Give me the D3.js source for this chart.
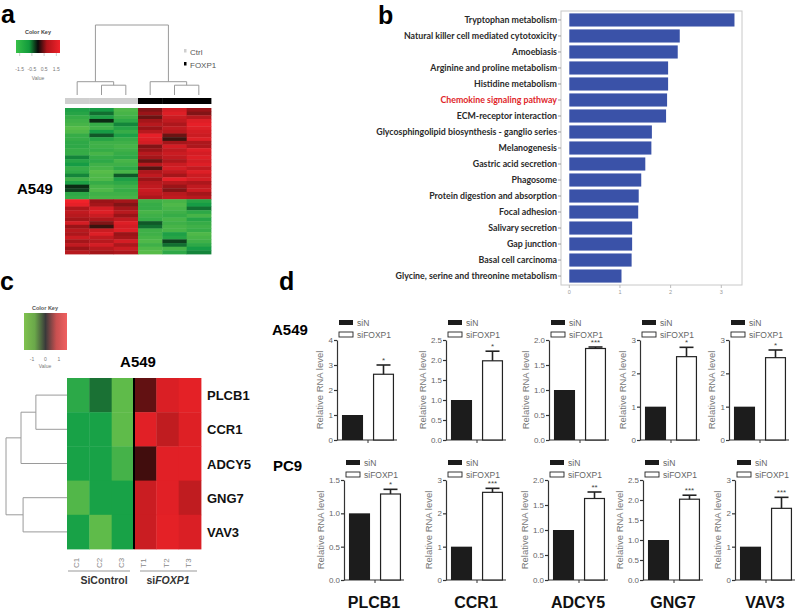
<!DOCTYPE html>
<html><head><meta charset="utf-8">
<script src="https://cdn.jsdelivr.net/npm/d3@7"></script>
<style>body{margin:0;background:#fff;} svg{display:block;font-family:"Liberation Sans",Arial,sans-serif;}</style>
</head><body><script>
// ================= DATA =================
// Panel a
const aColumns = ["Ctrl-1","Ctrl-2","Ctrl-3","FOXP1-1","FOXP1-2","FOXP1-3"];
const aGroups = ["Ctrl","Ctrl","Ctrl","FOXP1","FOXP1","FOXP1"];
const aMatrix = [
 [-0.7,-0.6,-1.3, 0.5,1.2,0.6],
 [-0.8,-0.4,-1.2, 0.6,1.3,0.5],
 [-1.0,-0.7,-1.1, 0.4,1.1,0.9],
 [-1.1,-0.1,-0.9, 0.7,1.0,1.3],
 [-1.2,-1.0,-0.5, 0.9,0.8,1.4],
 [-1.4,-1.1,-0.8, 0.6,1.0,1.3],
 [-1.3,-0.6,-1.0, 0.9,0.9,1.2],
 [-1.0,-0.3,-0.7, 1.4,0.4,1.1],
 [-1.0,-0.8,-1.0, 1.3,0.2,1.3],
 [-0.9,-1.1,-1.1, 1.2,0.7,0.8],
 [-0.9,-1.1,-1.2, 0.5,1.2,0.8],
 [-1.0,-1.0,-1.1, 0.6,1.0,1.3],
 [-1.0,-1.2,-1.0, 0.9,1.1,1.2],
 [-0.5,-1.0,-0.9, 0.7,1.0,1.3],
 [-0.8,-0.9,-1.2, 0.4,0.8,1.2],
 [-0.6,-1.1,-1.1, 0.9,1.1,1.3],
 [-1.0,-1.2,-0.9, 0.3,1.2,1.0],
 [-0.9,-1.4,-1.2, 0.8,1.0,1.3],
 [-0.5,-1.3,-0.3, 1.0,0.7,1.1],
 [-1.1,-1.3,-0.7, 0.6,1.4,1.2],
 [-0.7,-1.0,-0.9, 0.9,0.9,0.8],
 [-0.1,-1.2,-1.1, 1.0,0.6,1.0],
 [-0.2,-1.3,-1.0, 1.1,0.5,1.1],
 [-0.9,-1.1,-1.1, 1.0,0.9,0.7],
 [-1.0,-1.2,-1.2, 0.8,1.0,0.9],
 [ 1.5, 0.6, 0.7,-1.1,-1.2,-0.8],
 [ 1.4, 0.7, 0.5,-1.0,-1.3,-0.6],
 [ 0.8, 1.2, 0.7,-1.0,-1.2,-0.4],
 [ 1.0, 1.3, 0.9,-1.2,-1.1,-0.9],
 [ 0.9, 1.1, 0.6,-1.1,-1.0,-1.2],
 [ 0.7, 0.8, 1.0,-1.0,-1.2,-0.8],
 [ 1.2, 0.5, 1.3,-0.3,-1.1,-1.0],
 [ 0.6, 0.2, 1.2,-0.4,-1.2,-1.1],
 [ 0.9, 1.1, 1.3,-1.1,-1.2,-1.0],
 [ 0.8, 1.3, 0.6,-1.1,-0.7,-1.3],
 [ 1.1, 1.0, 0.7,-1.2,-0.8,-1.2],
 [ 0.7, 0.9, 1.2,-1.3,-0.2,-1.1],
 [ 1.0, 1.2, 0.8,-1.1,-0.4,-0.9],
 [ 0.6, 0.9, 1.1,-1.3,-1.2,-0.6],
 [ 0.9, 0.7, 0.8,-1.4,-0.9,-0.5]
];
const aKeyTicks = [-1.5,-0.5,0.5,1.5];
const aDendroMerges = [[1,2,0.14],[0,"m0",0.19],[4,5,0.14],[3,"m2",0.19],["m1","m3",1]];

// Panel b
const keggTerms = ["Tryptophan metabolism","Natural killer cell mediated cytotoxicity","Amoebiasis",
 "Arginine and proline metabolism","Histidine metabolism","Chemokine signaling pathway",
 "ECM-receptor interaction","Glycosphingolipid  biosynthesis - ganglio series","Melanogenesis",
 "Gastric acid secretion","Phagosome","Protein digestion and absorption","Focal adhesion",
 "Salivary secretion","Gap junction","Basal cell carcinoma","Glycine, serine and threonine metabolism"];
const keggValues = [3.26,2.18,2.14,1.95,1.95,1.93,1.91,1.63,1.62,1.50,1.42,1.37,1.36,1.24,1.24,1.23,1.03];
const keggTicks = [0,1,2,3];
const keggHighlight = "Chemokine signaling pathway";

// Panel c
const cGenes = ["PLCB1","CCR1","ADCY5","GNG7","VAV3"];
const cSamples = ["C1","C2","C3","T1","T2","T3"];
const cMatrix = [
 [-1.0,-0.55,-1.4, 0.3,1.2,1.35],
 [-0.85,-0.85,-1.4, 1.3,0.8,1.25],
 [-0.85,-0.85,-1.2, 0.12,1.3,1.3],
 [-1.3,-0.85,-0.85, 0.95,1.3,0.8],
 [-0.85,-1.4,-0.85, 0.95,1.35,1.2]
];
const cKeyTicks = [-1,0,1];
const cDendroMerges = [[0,1,0.51],["m0",2,0.754],[3,4,0.72],["m1","m2",1]];

// Panel d
const dGenes = ["PLCB1","CCR1","ADCY5","GNG7","VAV3"];
const dGroups = ["siN","siFOXP1"];
const a549Control = [1,1,1,1,1];
const a549FOXP1 = [2.63,1.98,1.83,2.5,2.47];
const a549Err = [0.37,0.24,0.03,0.28,0.23];
const a549Sig = ["*","*","***","*","*"];
const a549YMax = [4,2.5,2,3,3];
const a549YStep = [1,0.5,0.5,1,1];
const pc9Control = [1,1,1,1,1];
const pc9FOXP1 = [1.29,2.63,1.63,2.02,2.15];
const pc9Err = [0.07,0.12,0.13,0.1,0.33];
const pc9Sig = ["*","***","**","***","***"];
const pc9YMax = [1.5,3,2,2.5,3];
const pc9YStep = [0.5,1,0.5,0.5,1];

// ================= LAYOUT =================
const svg = d3.select("body").append("svg").attr("width",800).attr("height",613);

function panelLabel(t,x,y){ svg.append("text").attr("x",x).attr("y",y).attr("font-size",25).attr("font-weight","bold").text(t); }
panelLabel("a",1,23); panelLabel("b",378,24); panelLabel("c",0,290); panelLabel("d",279,290);

// Generic dendrogram
function drawDendro(g, leafPos, merges, hScale, orient){
  const nodes = {};
  leafPos.forEach((p,i)=>nodes[i]={p,h:0});
  merges.forEach(([a,b,h],k)=>{
    const A=nodes[a], B=nodes[b];
    nodes["m"+k]={p:(A.p+B.p)/2,h};
    const pts=[[A.p,A.h],[A.p,h],[B.p,h],[B.p,B.h]];
    const xy = pts.map(([p,hh])=> orient==="top"?[p,hScale(hh)]:[hScale(hh),p]);
    g.append("path").attr("d",d3.line()(xy)).attr("fill","none").attr("stroke","#9a9a9a").attr("stroke-width",1);
  });
}

// ---------- Panel a ----------
(function(){
  const g = svg.append("g");
  const x = d3.scaleBand().domain(d3.range(aColumns.length)).range([65,211]);
  const y = d3.scaleBand().domain(d3.range(aMatrix.length)).range([108,254]);
  const color = d3.scaleLinear().domain([-1.5,-0.6,0,0.6,1.5]).range(["#5fc04a","#169c45","#0a140a","#9a1418","#f0222a"]).clamp(true);
  aMatrix.forEach((row,i)=>row.forEach((v,j)=>{
    g.append("rect").attr("x",x(j)).attr("y",y(i)).attr("width",x.bandwidth()+0.4).attr("height",y.bandwidth()+0.4).attr("fill",color(v));
  }));
  aGroups.forEach((gr,j)=>g.append("rect").attr("x",x(j)).attr("y",98).attr("width",x.bandwidth()+0.4).attr("height",6).attr("fill",gr==="Ctrl"?"#cfcfcf":"#000"));
  const hs = d3.scaleLinear().domain([0,1]).range([95,25]);
  drawDendro(g, aColumns.map((c,j)=>x(j)+x.bandwidth()/2), aDendroMerges, hs, "top");
  [["Ctrl","#cfcfcf"],["FOXP1","#000"]].forEach(([t,c],i)=>{
    g.append("rect").attr("x",184).attr("y",49+i*13).attr("width",2.5).attr("height",3.5).attr("fill",c);
    g.append("text").attr("x",190).attr("y",55+i*13).attr("font-size",8).attr("fill","#555").text(t);
  });
  const kx = d3.scaleLinear().domain([-1.8,1.8]).range([16,60]);
  const defs = svg.append("defs");
  const grad = defs.append("linearGradient").attr("id","gradA");
  [["0%","#38c048"],["30%","#119a3c"],["50%","#0a0a0a"],["70%","#b0141a"],["100%","#f0222a"]].forEach(([o,c])=>grad.append("stop").attr("offset",o).attr("stop-color",c));
  g.append("rect").attr("x",kx(-1.8)).attr("y",40).attr("width",kx(1.8)-kx(-1.8)).attr("height",13).attr("fill","url(#gradA)");
  g.append("text").attr("x",38).attr("y",34).attr("font-size",5.5).attr("font-weight","bold").attr("fill","#444").attr("text-anchor","middle").text("Color Key");
  aKeyTicks.forEach(t=>{
    g.append("line").attr("x1",kx(t)).attr("x2",kx(t)).attr("y1",53).attr("y2",56).attr("stroke","#999").attr("stroke-width",0.5);
    g.append("text").attr("x",kx(t)).attr("y",71).attr("font-size",5).attr("fill","#777").attr("text-anchor","middle").text(t<0?("-"+Math.abs(t)):t);
  });
  g.append("text").attr("x",38).attr("y",80).attr("font-size",5).attr("fill","#777").attr("text-anchor","middle").text("Value");
  g.append("text").attr("x",17).attr("y",194).attr("font-size",15).attr("font-weight","bold").text("A549");
})();

// ---------- Panel b ----------
(function(){
  const g = svg.append("g");
  const x = d3.scaleLinear().domain([0,3]).range([569.3,721.3]);
  const y = d3.scaleBand().domain(keggTerms).range([11,285]).paddingInner(0.18).paddingOuter(0.15);
  g.append("rect").attr("x",561).attr("y",11).attr("width",181).attr("height",274).attr("fill","none").attr("stroke","#c8c8c8").attr("stroke-width",1);
  keggTerms.forEach((t,i)=>{
    g.append("rect").attr("x",x(0)).attr("y",y(t)).attr("width",x(keggValues[i])-x(0)).attr("height",y.bandwidth()).attr("fill","#3a52a8");
    const cy = y(t)+y.bandwidth()/2;
    g.append("line").attr("x1",558).attr("x2",561).attr("y1",cy).attr("y2",cy).attr("stroke","#999");
    g.append("text").attr("x",557).attr("y",cy+3.2).attr("text-anchor","end").attr("font-family","Lato").attr("font-weight",700)
      .attr("font-size",8.8).attr("fill",t===keggHighlight?"#e0262a":"#2a2a2a").text(t);
  });
  keggTicks.forEach(t=>{
    g.append("line").attr("x1",x(t)).attr("x2",x(t)).attr("y1",285).attr("y2",288).attr("stroke","#bbb");
    g.append("text").attr("x",x(t)).attr("y",294).attr("font-size",5.5).attr("fill","#999").attr("text-anchor","middle").text(t);
  });
})();

// ---------- Panel c ----------
(function(){
  const g = svg.append("g");
  const x = d3.scaleBand().domain(cSamples).range([67,201]);
  const y = d3.scaleBand().domain(cGenes).range([378,549]);
  const color = d3.scaleLinear().domain([-1.5,-0.8,0,0.8,1.5]).range(["#6cc04a","#12a047","#2a0a0a","#c01c20","#ee2228"]).clamp(true);
  cMatrix.forEach((row,i)=>row.forEach((v,j)=>{
    g.append("rect").attr("x",x(cSamples[j])).attr("y",y(cGenes[i])).attr("width",x.bandwidth()+0.4).attr("height",y.bandwidth()+0.4).attr("fill",color(v));
  }));
  g.append("line").attr("x1",x("T1")).attr("x2",x("T1")).attr("y1",378).attr("y2",549).attr("stroke","#000").attr("stroke-width",2);
  cGenes.forEach(gn=>g.append("text").attr("x",207).attr("y",y(gn)+y.bandwidth()/2+5).attr("font-size",13).attr("font-weight","bold").attr("fill","#111").text(gn));
  const hs = d3.scaleLinear().domain([0,1]).range([67,6]);
  drawDendro(g, cGenes.map(gn=>y(gn)+y.bandwidth()/2), cDendroMerges, hs, "left");
  cSamples.forEach(s=>{
    g.append("text").attr("transform",`translate(${x(s)+x.bandwidth()/2+1},563) rotate(-90)`).attr("text-anchor","middle").attr("font-size",8).attr("fill","#888").text(s);
  });
  g.append("line").attr("x1",68).attr("x2",130).attr("y1",571).attr("y2",571).attr("stroke","#999");
  g.append("line").attr("x1",140).attr("x2",197).attr("y1",571).attr("y2",571).attr("stroke","#999");
  g.append("text").attr("x",104).attr("y",584).attr("text-anchor","middle").attr("font-size",10.5).attr("font-weight","bold").attr("fill","#333").text("SiControl");
  const t2 = g.append("text").attr("x",168).attr("y",584).attr("text-anchor","middle").attr("font-size",10.5).attr("font-weight","bold").attr("fill","#333");
  t2.append("tspan").text("si"); t2.append("tspan").attr("font-style","italic").text("FOXP1");
  g.append("text").attr("x",138).attr("y",367).attr("text-anchor","middle").attr("font-size",15).attr("font-weight","bold").text("A549");
  const kx = d3.scaleLinear().domain([-1.6,1.6]).range([24,67]);
  const grad = svg.select("defs").append("linearGradient").attr("id","gradC");
  [["0%","#80c24f"],["25%","#6aa84a"],["50%","#3a3a3a"],["75%","#c85050"],["100%","#f06060"]].forEach(([o,c])=>grad.append("stop").attr("offset",o).attr("stop-color",c));
  g.append("rect").attr("x",kx(-1.6)).attr("y",313).attr("width",kx(1.6)-kx(-1.6)).attr("height",37).attr("fill","url(#gradC)");
  g.append("text").attr("x",45).attr("y",310).attr("font-size",5.5).attr("font-weight","bold").attr("fill","#555").attr("text-anchor","middle").text("Color Key");
  cKeyTicks.forEach(t=>{
    g.append("text").attr("x",kx(t)).attr("y",361).attr("font-size",5).attr("fill","#777").attr("text-anchor","middle").text(t);
  });
  g.append("text").attr("x",45).attr("y",368).attr("font-size",5).attr("fill","#777").attr("text-anchor","middle").text("Value");
})();

// ---------- Panel d ----------
const a549AxisX = [337,446,549,640,729];
const pc9AxisX = [344,446,548,643,735];
function barChart(axisX, top, bottom, ctrl, trt, err, sig, yMax, yStep){
  const g = svg.append("g");
  const y = d3.scaleLinear().domain([0,yMax]).range([bottom,top]);
  const x = d3.scaleBand().domain(dGroups).range([axisX,axisX+62]).paddingInner(0.32).paddingOuter(0.16);
  const dec = yStep<1;
  const ticks = d3.range(0,yMax+1e-9,yStep);
  const ax = g.append("g").attr("transform",`translate(${axisX},0)`)
    .call(d3.axisLeft(y).tickValues(ticks).tickFormat(dec?d3.format(".1f"):d3.format("d")).tickSize(3).tickSizeOuter(0).tickPadding(1));
  ax.select(".domain").attr("stroke","#333").attr("stroke-width",1.2);
  ax.selectAll(".tick line").attr("stroke","#333").attr("stroke-width",1.2);
  ax.selectAll(".tick text").attr("font-size",8).attr("fill","#666").attr("font-family","Liberation Sans");
  g.append("line").attr("x1",axisX).attr("x2",axisX+60).attr("y1",bottom).attr("y2",bottom).attr("stroke","#333").attr("stroke-width",1.2);
  g.append("line").attr("x1",axisX+31).attr("x2",axisX+31).attr("y1",bottom).attr("y2",bottom+3).attr("stroke","#333").attr("stroke-width",1);
  g.append("rect").attr("x",x("siN")).attr("y",y(ctrl)).attr("width",x.bandwidth()).attr("height",bottom-y(ctrl)).attr("fill","#1c1c1c");
  g.append("rect").attr("x",x("siFOXP1")+0.6).attr("y",y(trt)).attr("width",x.bandwidth()-1.2).attr("height",bottom-y(trt)).attr("fill","#fff").attr("stroke","#222").attr("stroke-width",1.2);
  const cx = x("siFOXP1")+x.bandwidth()/2;
  g.append("line").attr("x1",cx).attr("x2",cx).attr("y1",y(trt)).attr("y2",y(trt+err)).attr("stroke","#222").attr("stroke-width",1.6);
  g.append("line").attr("x1",cx-7).attr("x2",cx+7).attr("y1",y(trt+err)).attr("y2",y(trt+err)).attr("stroke","#222").attr("stroke-width",1.6);
  g.append("text").attr("x",cx).attr("y",y(trt+err)-2).attr("text-anchor","middle").attr("font-size",8).attr("fill","#444").text(sig);
  dGroups.forEach((gr,i)=>{
    const ly = top - 17.5 + i*12;
    g.append("rect").attr("x",axisX+2).attr("y",ly-2.5).attr("width",14).attr("height",5).attr("fill",i?"#fff":"#1c1c1c").attr("stroke","#222").attr("stroke-width",i?0.9:0);
    g.append("text").attr("x",axisX+20).attr("y",ly+3).attr("font-size",8.5).attr("fill","#666").text(gr);
  });
  g.append("text").attr("transform",`translate(${axisX-(dec?20:14)},${(top+bottom)/2}) rotate(-90)`).attr("text-anchor","middle")
    .attr("font-size",9.5).attr("fill","#777").text("Relative RNA level");
}
dGenes.forEach((gn,i)=>{
  barChart(a549AxisX[i],340,440,a549Control[i],a549FOXP1[i],a549Err[i],a549Sig[i],a549YMax[i],a549YStep[i]);
  barChart(pc9AxisX[i],480,580,pc9Control[i],pc9FOXP1[i],pc9Err[i],pc9Sig[i],pc9YMax[i],pc9YStep[i]);
  svg.append("text").attr("x",pc9AxisX[i]+30).attr("y",608).attr("text-anchor","middle").attr("font-size",16).attr("font-weight","bold").attr("fill","#111").text(gn);
});
svg.append("text").attr("x",272).attr("y",335).attr("font-size",15).attr("font-weight","bold").text("A549");
svg.append("text").attr("x",273).attr("y",471).attr("font-size",15).attr("font-weight","bold").text("PC9");
</script></body></html>
